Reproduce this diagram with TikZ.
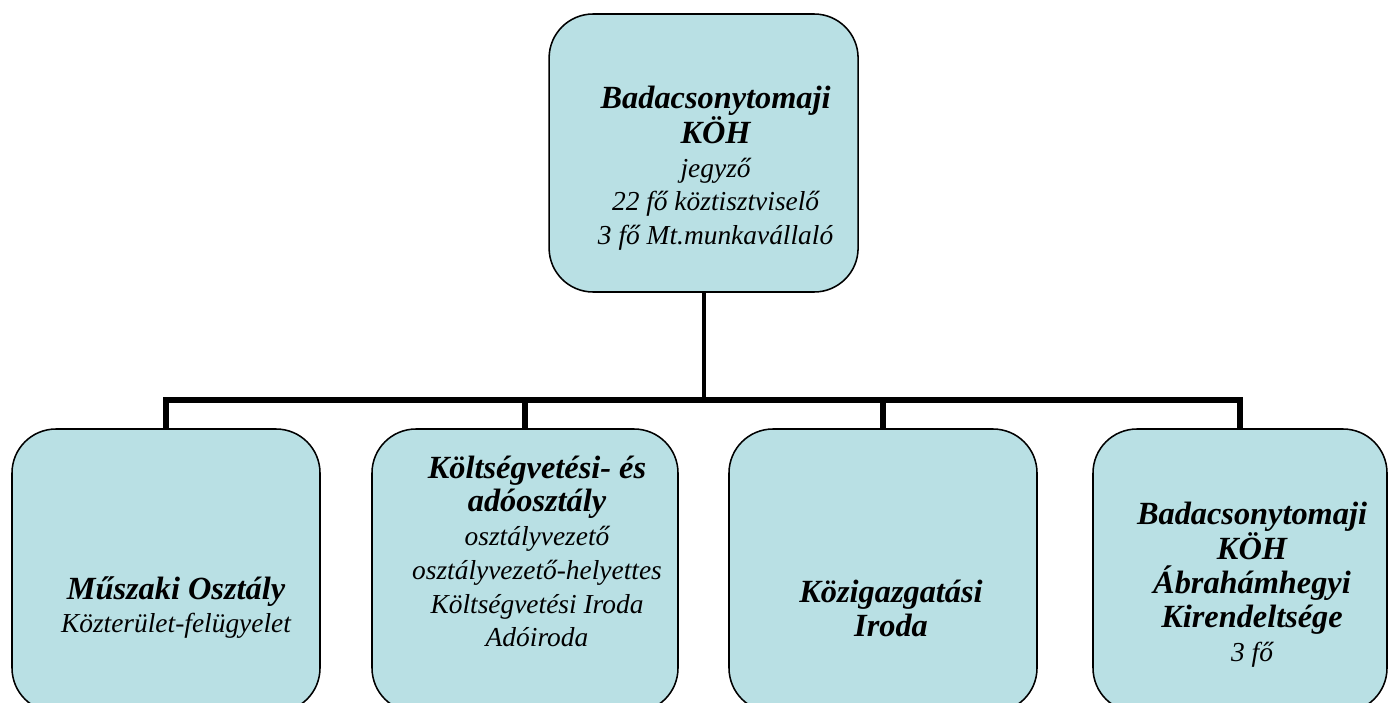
\documentclass[tikz,border=0pt]{standalone}
\usepackage{fontspec}
\setmainfont{Liberation Serif}
\usetikzlibrary{positioning}
\definecolor{boxfill}{RGB}{185,224,228}
\tikzset{
  unit/.style={draw=black, line width=1.1pt, fill=boxfill, rounded corners=1.1cm, inner sep=0pt},
  dept/.style={unit, minimum width=7.7cm, minimum height=7.075cm},
  txt/.style={align=center, font=\itshape\fontsize{19.5}{24}\selectfont, inner sep=0pt},
  link/.style={line width=2.8pt},
  busline/.style={line width=4.3pt, line cap=rect},
  drop/.style={line width=3.6pt}
}
\newcommand{\hd}[1]{{\bfseries\fontsize{23}{24}\selectfont #1}}

\begin{document}
\begin{tikzpicture}
  \useasboundingbox (0,0) rectangle (34.7,-17.55);
  % head office
  \node[unit, minimum width=7.725cm, minimum height=6.95cm] (head) at (17.59,-3.825) {};
  % departments
  \node[dept] (musz) at (4.15,-14.2625) {};
  \node[dept, minimum width=7.65cm] (kolt) at (13.125,-14.2625) {};
  \node[dept] (kozig) at (22.075,-14.2625) {};
  \node[dept, minimum width=7.35cm] (kir) at (31.0,-14.2625) {};
  % connectors
  \coordinate (split) at (0,-10.0);
  \draw[link] (head.south) -- (head.south |- split);
  \draw[busline] (musz.north |- split) -- (kir.north |- split);
  \foreach \d in {musz,kolt,kozig,kir} \draw[drop] (\d.north |- split) -- (\d.north);
  % texts
  \node[txt] (headtxt) at ([xshift=0.3cm,yshift=-0.375cm]head.center)
    {\hd{Badacsonytomaji}\\ \hd{KÖH}\\ jegyző\\ 22 fő köztisztviselő\\ 3 fő Mt.munkavállaló};
  \node[txt] (musztxt) at ([xshift=0.25cm,yshift=-0.925cm]musz.center)
    {\hd{Műszaki Osztály}\\ Közterület-felügyelet};
  \node[txt] (kolttxt) at ([xshift=0.3cm,yshift=0.475cm]kolt.center)
    {\hd{Költségvetési- és}\\ \hd{adóosztály}\\ osztályvezető\\ osztályvezető-helyettes\\ Költségvetési Iroda\\ Adóiroda};
  \node[txt] (kozigtxt) at ([xshift=0.2cm,yshift=-0.95cm]kozig.center)
    {\hd{Közigazgatási}\\ \hd{Iroda}};
  \node[txt] (kirtxt) at ([xshift=0.3cm,yshift=-0.35cm]kir.center)
    {\hd{Badacsonytomaji}\\ \hd{KÖH}\\ \hd{Ábrahámhegyi}\\ \hd{Kirendeltsége}\\ 3 fő};
\end{tikzpicture}
\end{document}
